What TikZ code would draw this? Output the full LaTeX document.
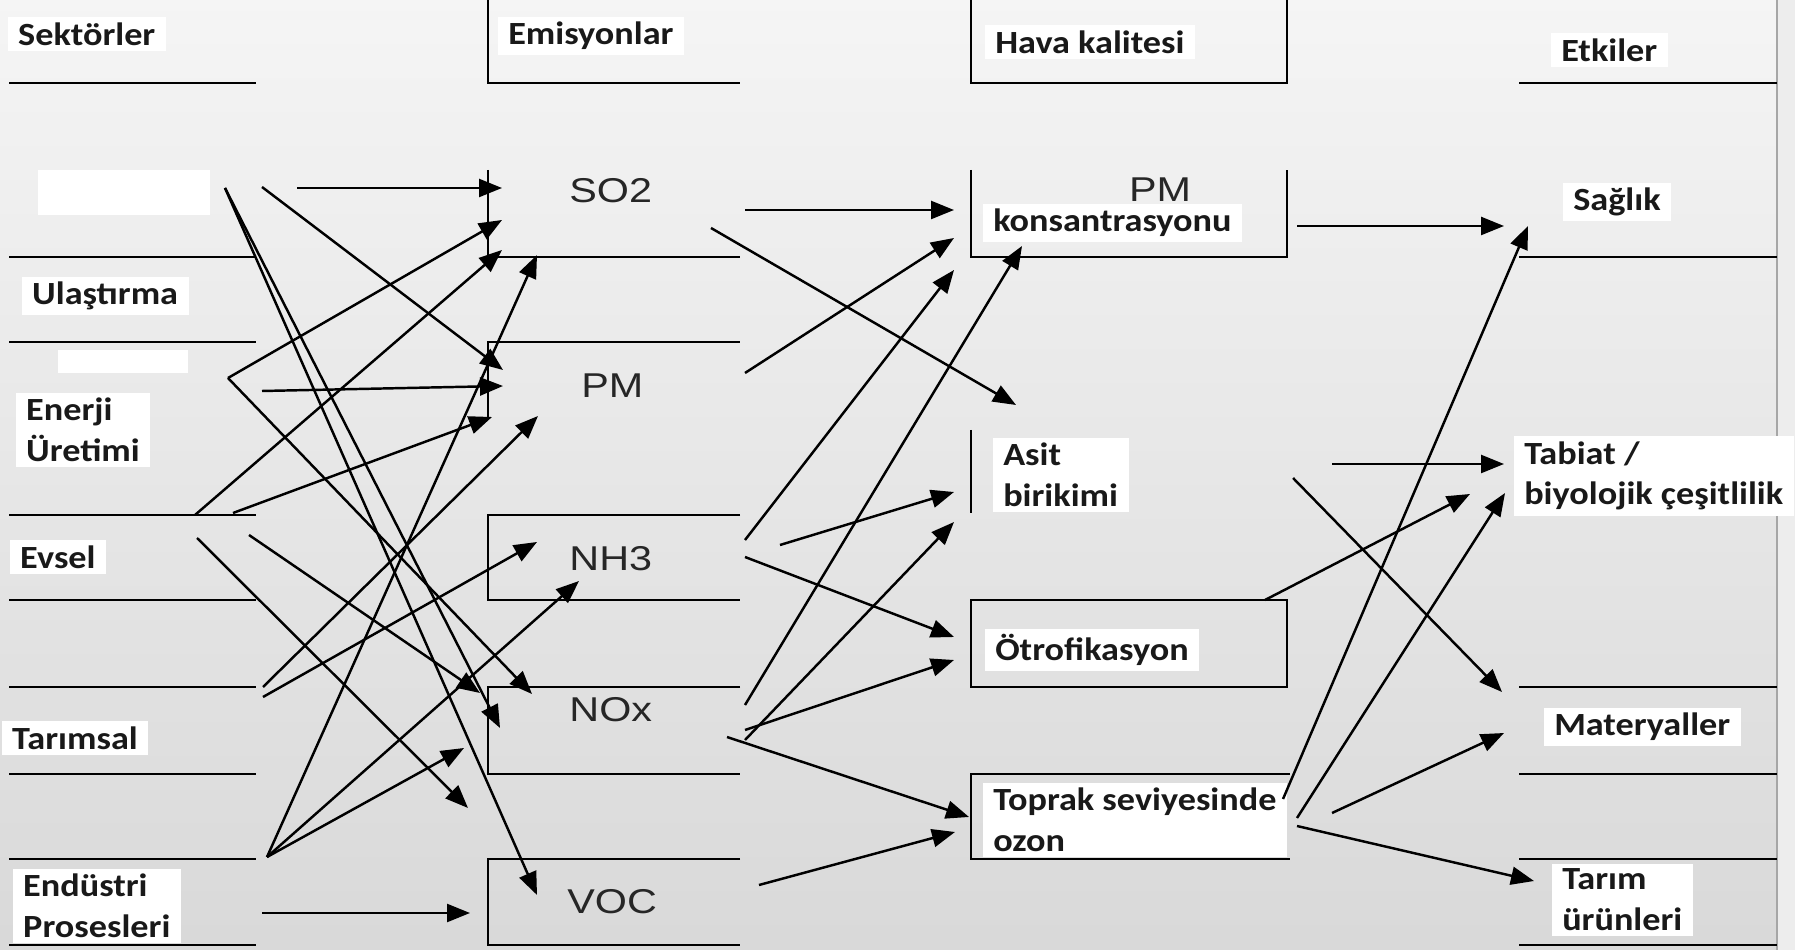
\documentclass[tikz,border=0pt]{standalone}
\usepackage{fontspec}
\setmainfont{Carlito}
\newfontfamily\lblfont[FakeStretch=1.12]{Carlito}
\newfontfamily\gasfont[FakeStretch=1.2]{Liberation Sans}
\usetikzlibrary{arrows.meta}

\begin{document}
\begin{tikzpicture}[x=0.1mm, y=-0.1mm,
  lbl/.style={font=\lblfont\bfseries\fontsize{9.2}{11.6}\selectfont, anchor=west,
    align=left, fill=white, inner xsep=3pt, inner ysep=1.5pt, text=black!90},
  gas/.style={font=\gasfont\fontsize{9.8}{11}\selectfont, anchor=west, text=black!85},
  arr/.style={-{Triangle[length=2.3mm,width=1.8mm]}, line width=0.7pt},
  rule/.style={line width=0.8pt}]
  \useasboundingbox (0,0) rectangle (1795,950);
  % background
  \shade[top color=white!96!black, middle color=black!11, bottom color=black!15]
    (0,0) rectangle (1777,950);
  \fill[black!7] (1777,0) rectangle (1795,950);
  \draw[black!35, line width=0.6pt] (1777,0) -- (1777,950);
  \fill[white] (38,170) rectangle (210,215);
  \fill[white] (58,350) rectangle (188,373);

  % columns
  \foreach \y in {83,257,342,515,600,687,774,859,945}
    \draw[rule] (9,\y) -- (256,\y);
  \draw[rule] (488,0) |- (740,83);
  \draw[rule] (488,170) |- (740,257);
  \draw[rule] (488,420) |- (740,342);
  \foreach \t/\b in {515/600,687/774,859/945}
    \draw[rule] (740,\t) -| (488,\b) -- (740,\b);
  \draw[rule] (971,0) |- (1287,83) -- (1287,0);
  \draw[rule] (971,170) |- (1287,257) -- (1287,170);
  \draw[rule] (971,430) -- (971,513);
  \draw[rule] (971,600) rectangle (1287,687);
  \draw[rule] (1290,774) -| (971,859) -- (1290,859);
  \foreach \y in {83,257,687,774,859,945}
    \draw[rule] (1519,\y) -- (1777,\y);

  % labels
  \node[lbl] (sek) at (7,34) {Sektörler};
  \node[lbl] (emi) at (497,36) {Emisyonlar};
  \node[lbl] (hava) at (984,42) {Hava kalitesi};
  \node[lbl] (etk) at (1550,50) {Etkiler};
  \node[lbl] (ula) at (21,296) {Ulaştırma};
  \node[lbl] (ene) at (15,430) {Enerji\\Üretimi};
  \node[lbl] (evs) at (9,557) {Evsel};
  \node[lbl] (tar) at (1,738) {Tarımsal};
  \node[lbl] (end) at (12,906) {Endüstri\\Prosesleri};
  \node[gas] (so2) at (557,191) {SO2};
  \node[gas] (pm) at (569,386) {PM};
  \node[gas] (nh3) at (557,559) {NH3};
  \node[gas] (nox) at (557,710) {NOx};
  \node[gas] (voc) at (555,902) {VOC};
  \node[lbl] (kons) at (982,223) {konsantrasyonu};
  \node[gas, anchor=center] (pmc) at (1160,190) {PM};
  \node[lbl] (asit) at (992,475) {Asit\\birikimi};
  \node[lbl] (otr) at (984,650) {Ötrofikasyon};
  \node[lbl] (top) at (982,820) {Toprak seviyesinde\\ozon};
  \node[lbl] (sag) at (1562,202) {Sağlık};
  \node[lbl] (tab) at (1513,476) {Tabiat /\\biyolojik çeşitlilik};
  \node[lbl] (mat) at (1543,727) {Materyaller};
  \node[lbl] (tur) at (1551,900) {Tarım\\ürünleri};

  % sectors -> emissions
  \coordinate (r1a) at (297,188); \coordinate (r1b) at (262,187); \coordinate (r1c) at (225,188);
  \coordinate (en1) at (228,378); \coordinate (en2) at (262,391);
  \coordinate (ev1) at (195,515); \coordinate (ev2) at (233,513);
  \coordinate (ev3) at (197,538); \coordinate (ev4) at (249,535);
  \coordinate (ta1) at (263,687); \coordinate (ta2) at (263,697);
  \coordinate (in1) at (267,857); \coordinate (in2) at (262,913);
  \coordinate (so1) at (502,188); \coordinate (so2t) at (502,220);
  \coordinate (so3) at (502,250); \coordinate (so4) at (537,255);
  \coordinate (pm1) at (503,370); \coordinate (pm2) at (503,386);
  \coordinate (pm3) at (492,417); \coordinate (pm4) at (538,416);
  \coordinate (nh1) at (537,542); \coordinate (nh2) at (579,581);
  \coordinate (no1) at (480,693); \coordinate (no2) at (532,694);
  \coordinate (no3) at (500,728); \coordinate (no4) at (464,748);
  \coordinate (gap) at (468,808);
  \coordinate (vo1) at (537,895); \coordinate (vo2) at (470,913);
  \draw[arr] (r1a) -- (so1);  \draw[arr] (r1b) -- (pm1);
  \draw[arr] (r1c) -- (no3);  \draw[arr] (r1c) -- (vo1);
  \draw[arr] (en1) -- (so2t); \draw[arr] (en1) -- (no2);
  \draw[arr] (en2) -- (pm2);
  \draw[arr] (ev1) -- (so3);  \draw[arr] (ev2) -- (pm3);
  \draw[arr] (ev3) -- (gap);  \draw[arr] (ev4) -- (no1);
  \draw[arr] (ta1) -- (pm4);  \draw[arr] (ta2) -- (nh1);
  \draw[arr] (in1) -- (so4);  \draw[arr] (in1) -- (nh2);
  \draw[arr] (in1) -- (no4);  \draw[arr] (in2) -- (vo2);

  % emissions -> air quality
  \coordinate (e1) at (745,210); \coordinate (e2) at (711,228);
  \coordinate (e3) at (745,373); \coordinate (e4) at (745,540);
  \coordinate (e5) at (780,545); \coordinate (e6) at (745,557);
  \coordinate (e7) at (745,705); \coordinate (e8) at (745,740);
  \coordinate (e9) at (745,730); \coordinate (e10) at (727,737);
  \coordinate (e11) at (759,885);
  \coordinate (q1) at (954,210); \coordinate (q2) at (954,238);
  \coordinate (q3) at (954,270); \coordinate (q4) at (1022,246);
  \coordinate (a1) at (1016,405); \coordinate (a2) at (954,492);
  \coordinate (a3) at (954,522);
  \coordinate (o1) at (954,637); \coordinate (o2) at (954,660);
  \coordinate (z1) at (969,817); \coordinate (z2) at (955,832);
  \draw[arr] (e1) -- (q1);  \draw[arr] (e2) -- (a1);
  \draw[arr] (e3) -- (q2);  \draw[arr] (e4) -- (q3);
  \draw[arr] (e5) -- (a2);  \draw[arr] (e6) -- (o1);
  \draw[arr] (e7) -- (q4);  \draw[arr] (e8) -- (a3);
  \draw[arr] (e9) -- (o2);  \draw[arr] (e10) -- (z1);
  \draw[arr] (e11) -- (z2);

  % air quality -> effects
  \coordinate (h1) at (1297,226); \coordinate (h2) at (1283,799);
  \coordinate (h3) at (1332,464); \coordinate (h4) at (1293,478);
  \coordinate (h5) at (1265,600); \coordinate (h6) at (1297,818);
  \coordinate (h7) at (1332,813); \coordinate (h8) at (1297,826);
  \coordinate (k1) at (1504,226); \coordinate (k2) at (1528,226);
  \coordinate (k3) at (1504,464); \coordinate (k4) at (1502,692);
  \coordinate (k5) at (1470,494); \coordinate (k6) at (1505,493);
  \coordinate (k7) at (1504,733); \coordinate (k8) at (1534,881);
  \draw[arr] (h1) -- (k1);  \draw[arr] (h2) -- (k2);
  \draw[arr] (h3) -- (k3);  \draw[arr] (h4) -- (k4);
  \draw[arr] (h5) -- (k5);  \draw[arr] (h6) -- (k6);
  \draw[arr] (h7) -- (k7);  \draw[arr] (h8) -- (k8);
\end{tikzpicture}
\end{document}
